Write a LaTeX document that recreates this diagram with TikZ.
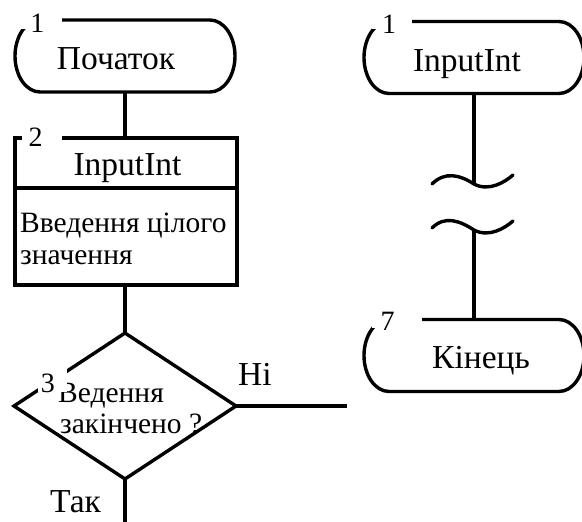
\documentclass[tikz,border=0pt]{standalone}
\usepackage{fontspec}
\setmainfont{Liberation Serif}
\tikzset{
  outline/.style={line width=3.4pt, line join=miter},
  conn/.style={line width=3.4pt},
  shapebox/.style={inner sep=0pt, outer sep=0pt, draw=none},
  bigtxt/.style={inner sep=0pt, font=\fontsize{33.5}{36}\selectfont},
  midtxt/.style={inner sep=0pt, font=\fontsize{29.5}{32}\selectfont},
  numtxt/.style={inner sep=0pt, font=\fontsize{28}{30}\selectfont},
  gapfill/.style={fill=white, draw=none},
}
\newcommand\drawterminal[1]{%
  \draw[outline] ([xshift=25pt]#1.north west) -- ([xshift=-25pt]#1.north east)
    arc[start angle=90, end angle=-90, x radius=25pt, y radius=36pt]
    -- ([xshift=25pt]#1.south west)
    arc[start angle=270, end angle=90, x radius=25pt, y radius=36pt] -- cycle;}
\begin{document}
\begin{tikzpicture}[x=1pt, y=-1pt]
\useasboundingbox (0,0) rectangle (582,522);

% ---------- left column ----------
\node[shapebox, minimum width=220pt, minimum height=72pt] (t1) at (125,56) {};
\node[shapebox, minimum width=222pt, minimum height=147pt] (b2) at (126,211.5) {};
\node[shapebox, minimum width=222pt, minimum height=146pt] (d3) at (125,406) {};
\coordinate (no) at (347,406);
\coordinate (yes) at (125,526);

\drawterminal{t1}
\node[bigtxt, anchor=base] (t1txt) at (116,70) {Початок};

\draw[outline] (b2.north west) rectangle (b2.south east);
\coordinate (sepy) at (0,188);
\draw[outline] (b2.west |- sepy) -- (b2.east |- sepy);
\node[bigtxt, anchor=base] (b2head) at (127.5,175) {InputInt};
\node[midtxt, anchor=base west] (b2l1) at (20,232) {Введення цілого};
\node[midtxt, anchor=base west] (b2l2) at (20,264) {значення};

\node[midtxt, anchor=base west] (d3l1) at (58,402) {Ведення};
\node[midtxt, anchor=base west] (d3l2) at (60,433) {закінчено ?};
\draw[outline] (d3.north) -- (d3.east) -- (d3.south) -- (d3.west) -- cycle;

\draw[conn] (t1.south) -- (t1.south |- b2.north);
\draw[conn] (b2.south -| d3.north) -- (d3.north);
\draw[conn] (d3.east) -- (no);
\draw[conn] (d3.south) -- (yes);

\node[bigtxt, anchor=base west] (lno) at (238,385) {Ні};
\node[bigtxt, anchor=base west] (lyes) at (50,512) {Так};

% number labels with their white backgrounds
\fill[gapfill] (21,3) rectangle (62,29);
\node[numtxt, anchor=base] (n1) at (37.5,32) {1};
\fill[gapfill] (22,118) rectangle (62,140);
\node[numtxt, anchor=base] (n2) at (35.5,146) {2};
\fill[gapfill] (38,360) rectangle (67,392);
\node[numtxt, anchor=base] (n3) at (48,392) {3};

% ---------- right column ----------
\node[shapebox, minimum width=220pt, minimum height=72pt] (tR) at (474,57.5) {};
\node[shapebox, minimum width=220pt, minimum height=72pt] (t7) at (474,355.5) {};
\drawterminal{tR}
\drawterminal{t7}
\node[bigtxt, anchor=base] (tRtxt) at (467,71) {InputInt};
\node[bigtxt, anchor=base] (t7txt) at (481,368) {Кінець};

\coordinate (w1) at (474,184);
\coordinate (w2) at (474,230);
\draw[conn] (tR.south) -- (w1);
\draw[conn] (w2) -- (t7.north);
\draw[conn, line cap=round] ([xshift=-42pt]w1) .. controls ([shift={(-29pt,-13)}]w1) and ([shift={(-14pt,-9)}]w1) .. (w1)
   .. controls ([shift={(15pt,8)}]w1) and ([shift={(31pt,-2)}]w1) .. ([shift={(39pt,-9)}]w1);
\draw[conn, line cap=round] ([shift={(-42pt,-2)}]w2) .. controls ([shift={(-29pt,-15)}]w2) and ([shift={(-14pt,-9)}]w2) .. (w2)
   .. controls ([shift={(15pt,8)}]w2) and ([shift={(31pt,-2)}]w2) .. ([shift={(39pt,-9)}]w2);

\fill[gapfill] (372,3) rectangle (412,29);
\node[numtxt, anchor=base] (nR1) at (389,33) {1};
\fill[gapfill] (372,300) rectangle (422,328);
\node[numtxt, anchor=base] (n7) at (387.5,330) {7};
\end{tikzpicture}
\end{document}
